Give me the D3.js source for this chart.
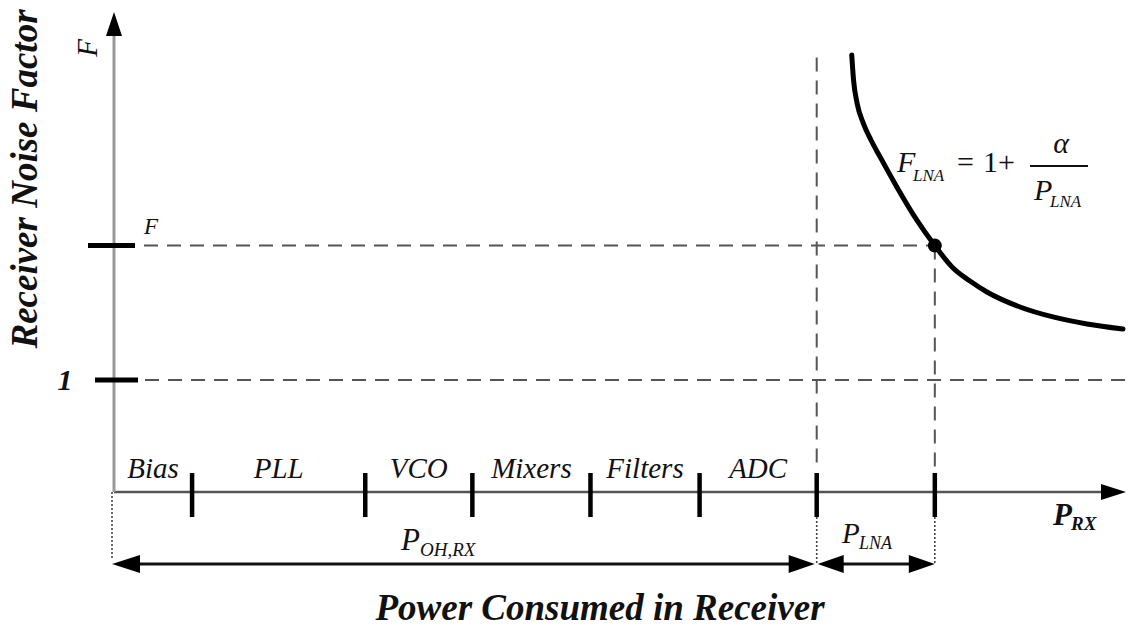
<!DOCTYPE html>
<html>
<head>
<meta charset="utf-8">
<script src="https://cdn.jsdelivr.net/npm/d3@7"></script>
<style>
  body { margin: 0; background: #fff; }
  svg { display: block; }
</style>
</head>
<body>
<svg id="chart" width="1131" height="634"></svg>
<script>
// Receiver power budget: overhead blocks followed by the LNA share
const blockNames = ["Bias", "PLL", "VCO", "Mixers", "Filters", "ADC"];
const blockEdges = [0, 7.8, 25.1, 35.8, 47.6, 58.5, 70.2];
const lnaPower = 11.8;

// Noise-factor levels marked on the vertical axis
const levelValues = [1, 2.2];
const levelLabels = ["1", "F"];

// LNA noise factor versus total receiver power
const curvePower = [73.70, 73.88, 74.23, 74.86, 75.62, 76.52, 78.19, 80.19, 82.0, 83.82, 85.51, 87.21, 90.51, 93.81, 97.20, 100.80];
const curveNoise = [3.902, 3.679, 3.473, 3.292, 3.143, 2.994, 2.726, 2.429, 2.2, 2.0, 1.884, 1.786, 1.652, 1.563, 1.50, 1.455];

const SERIF = '"Liberation Serif", "Times New Roman", serif';

const svg = d3.select("#chart");
const x = d3.scaleLinear().domain([0, 100]).range([114, 1115]);
const y = d3.scaleLinear().domain([0, 4.25]).range([492, 16]);

const pOH = blockEdges[blockEdges.length - 1];
const pTotal = pOH + lnaPower;
const fLevel = levelValues[1];

function arrowHead(tx, ty, dir, len = 24, half = 8) {
  let pts;
  if (dir === "right") pts = [[tx, ty], [tx - len, ty - half], [tx - len, ty + half]];
  if (dir === "left")  pts = [[tx, ty], [tx + len, ty - half], [tx + len, ty + half]];
  if (dir === "up")    pts = [[tx, ty], [tx - half, ty + len], [tx + half, ty + len]];
  svg.append("path").attr("d", "M" + pts.map(p => p.join(",")).join("L") + "Z").attr("fill", "#000");
}

function line(x1, y1, x2, y2, stroke, width, dash) {
  const l = svg.append("line").attr("x1", x1).attr("y1", y1).attr("x2", x2).attr("y2", y2)
    .attr("stroke", stroke).attr("stroke-width", width);
  if (dash) l.attr("stroke-dasharray", dash);
  return l;
}

function label(px, py, str, size, opts = {}) {
  const t = svg.append("text")
    .attr("text-anchor", opts.anchor || "start")
    .attr("fill", "#111")
    .style("font-family", SERIF)
    .style("font-size", size + "px")
    .style("font-style", opts.italic === false ? "normal" : "italic")
    .style("font-weight", opts.bold ? "bold" : "normal")
    .text(str);
  if (opts.rotate) t.attr("transform", `translate(${px},${py}) rotate(${opts.rotate})`);
  else t.attr("x", px).attr("y", py);
  return t;
}

const x0 = x(0), yBase = y(0);
const tipX = x(101.1);

// Dashed guide lines
line(x0 + 30, y(fLevel), x(pTotal), y(fLevel), "#555", 2, "14 9");
line(x0 + 31, y(1), tipX, y(1), "#555", 2, "14 9");
line(x(pOH), y(3.88), x(pOH), yBase - 22, "#555", 2, "14 9");
line(x(pTotal), y(fLevel), x(pTotal), yBase - 22, "#555", 2, "14 9");

// Axes
line(x0, yBase, tipX - 20, yBase, "#555", 2.5);
arrowHead(tipX, yBase, "right", 25, 8);
line(x0, yBase, x0, 30, "#999", 3);
arrowHead(x0, 12, "up", 24, 8);

// Level ticks and labels on the vertical axis
line(x0 - 26, y(levelValues[1]), x0 + 21, y(levelValues[1]), "#000", 5);
line(x0 - 19, y(levelValues[0]), x0 + 24, y(levelValues[0]), "#000", 5);
label(65, y(levelValues[0]) + 10, levelLabels[0], 30, { anchor: "middle", bold: true });
label(144, y(levelValues[1]) - 12, levelLabels[1], 23);

// Rotated axis symbol and title
label(97, 48, "F", 29, { anchor: "middle", rotate: -90 });
label(37, 179, "Receiver Noise Factor", 37, { anchor: "middle", bold: true, rotate: -90 });

// Block boundary ticks
const tickEdges = blockEdges.slice(1).concat([pTotal]);
tickEdges.forEach(e => line(x(e), yBase - 19, x(e), yBase + 25, "#000", 4.5));

// Block names centred in their spans
blockNames.forEach((name, i) => {
  label((x(blockEdges[i]) + x(blockEdges[i + 1])) / 2, yBase - 14, name, 29, { anchor: "middle" });
});

// Dotted drop lines to the dimension arrows
const yDim = 564;
line(x0 - 2, yBase, x0 - 2, yDim - 4, "#444", 1.6, "2 2");
line(x(pOH), yBase + 25, x(pOH), yDim, "#444", 1.6, "2 2");
line(x(pTotal), yBase + 25, x(pTotal), yDim, "#444", 1.6, "2 2");

// Dimension arrows
line(x0 + 10, yDim, x(pOH) - 10, yDim, "#111", 3);
arrowHead(x0 - 2, yDim, "left", 28, 9);
arrowHead(x(pOH) - 2, yDim, "right", 26, 9);
line(x(pOH) + 10, yDim, x(pTotal) - 10, yDim, "#111", 3);
arrowHead(x(pOH) + 1, yDim, "left", 26, 9);
arrowHead(x(pTotal), yDim, "right", 26, 9);

// Dimension labels with subscripts
label(401, 550, "P", 31);
label(420, 556, "OH,RX", 19);
label(842, 543, "P", 29);
label(859, 549, "LNA", 18);
label(1053, 525, "P", 31, { bold: true });
label(1071, 530, "RX", 19, { bold: true });

// Noise factor curve and operating point
const curveData = curvePower.map((p, i) => [p, curveNoise[i]]);
svg.append("path")
  .datum(curveData)
  .attr("d", d3.line().x(d => x(d[0])).y(d => y(d[1])).curve(d3.curveMonotoneX))
  .attr("fill", "none").attr("stroke", "#000").attr("stroke-width", 5).attr("stroke-linecap", "round");
svg.append("circle").attr("cx", x(pTotal)).attr("cy", y(fLevel)).attr("r", 7).attr("fill", "#000");

// Equation F_LNA = 1 + alpha / P_LNA
label(897, 172, "F", 30);
label(913, 181, "LNA", 17);
label(957, 172, "=", 30, { italic: false });
label(983, 172, "1+", 30, { italic: false });
line(1030, 166, 1088, 166, "#111", 2);
label(1061, 153, "α", 30, { anchor: "middle" });
label(1034, 200, "P", 30);
label(1050, 207, "LNA", 17);

// Horizontal axis title
label(600, 620, "Power Consumed in Receiver", 37, { anchor: "middle", bold: true });
</script>
</body>
</html>
